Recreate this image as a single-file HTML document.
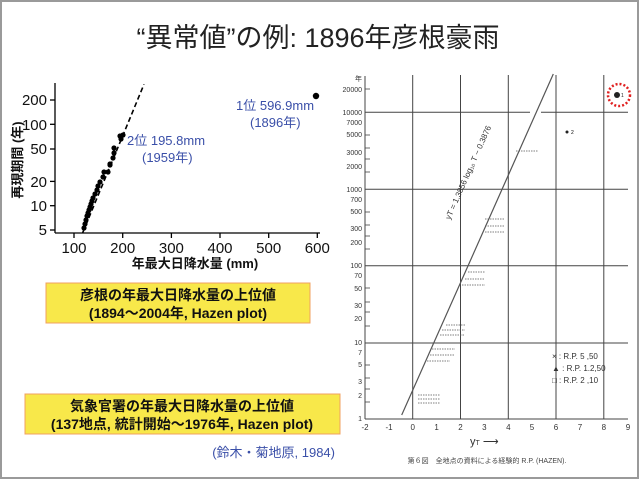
<!DOCTYPE html>
<html><head><meta charset="utf-8"><style>
body{margin:0;background:#fff}
svg{display:block}
text{font-family:"Liberation Sans","Noto Sans CJK JP",sans-serif}
</style></head><body>
<svg width="640" height="481" viewBox="0 0 640 481" xmlns="http://www.w3.org/2000/svg">
<rect x="0" y="0" width="640" height="481" fill="#fff"/>
<rect x="1" y="1" width="637" height="477" fill="none" stroke="#9a9a9a" stroke-width="2"/>
<text x="318" y="47" font-size="27" text-anchor="middle" fill="#222">“異常値”の例: 1896年彦根豪雨</text>

<!-- left chart -->
<g stroke="#000" stroke-width="1.3" fill="none">
<line x1="55" y1="83" x2="55" y2="233"/>
<line x1="55" y1="233" x2="320" y2="233"/>
<line x1="55" y1="230" x2="50" y2="230"/><line x1="55" y1="205.7" x2="50" y2="205.7"/>
<line x1="55" y1="181.4" x2="50" y2="181.4"/><line x1="55" y1="149" x2="50" y2="149"/>
<line x1="55" y1="124.3" x2="50" y2="124.3"/><line x1="55" y1="100" x2="50" y2="100"/>
<line x1="74" y1="233" x2="74" y2="238"/><line x1="122.7" y1="233" x2="122.7" y2="238"/>
<line x1="171.4" y1="233" x2="171.4" y2="238"/><line x1="220" y1="233" x2="220" y2="238"/>
<line x1="268.7" y1="233" x2="268.7" y2="238"/><line x1="317.3" y1="233" x2="317.3" y2="238"/>
<line x1="82.7" y1="232.7" x2="144" y2="84.3" stroke-dasharray="5,3" stroke-width="1.6"/>
</g>
<g font-size="15" fill="#111" text-anchor="end">
<text x="47" y="235">5</text><text x="47" y="211">10</text><text x="47" y="187">20</text>
<text x="47" y="154">50</text><text x="47" y="130">100</text><text x="47" y="105">200</text>
</g>
<g font-size="15" fill="#111" text-anchor="middle">
<text x="74" y="253">100</text><text x="122.7" y="253">200</text><text x="171.4" y="253">300</text>
<text x="220" y="253">400</text><text x="268.7" y="253">500</text><text x="317.3" y="253">600</text>
</g>
<text x="195" y="268" font-size="13" font-weight="bold" text-anchor="middle" fill="#111">年最大日降水量 (mm)</text>
<text transform="translate(22,160) rotate(-90)" font-size="13" font-weight="bold" text-anchor="middle" fill="#111">再現期間 (年)</text>
<g fill="#000">
<circle cx="84" cy="228" r="2.6"/><circle cx="85" cy="224" r="2.6"/><circle cx="86" cy="220" r="2.6"/>
<circle cx="87" cy="216" r="2.6"/><circle cx="88" cy="213" r="2.6"/><circle cx="89" cy="210" r="2.6"/>
<circle cx="90" cy="207" r="2.6"/><circle cx="91" cy="204" r="2.6"/><circle cx="92" cy="201" r="2.6"/>
<circle cx="93" cy="198" r="2.6"/><circle cx="95" cy="194" r="2.6"/><circle cx="97" cy="190" r="2.6"/>
<circle cx="98" cy="186" r="2.6"/><circle cx="100" cy="182" r="2.6"/><circle cx="103" cy="177" r="2.6"/>
<circle cx="104" cy="172" r="2.6"/><circle cx="108" cy="172" r="2.6"/><circle cx="110" cy="164" r="2.6"/>
<circle cx="113" cy="158" r="2.6"/><circle cx="114" cy="153" r="2.6"/><circle cx="121" cy="139" r="2.6"/>
<circle cx="110" cy="165" r="2.6"/><circle cx="114" cy="148" r="2.6"/><circle cx="120" cy="136" r="2.6"/>
<circle cx="123" cy="135" r="2.6"/><circle cx="316" cy="96" r="3.2"/>
</g>
<g font-size="13" fill="#3a4fa8">
<text x="127" y="145">2位 195.8mm</text><text x="142" y="162">(1959年)</text>
<text x="236" y="110">1位 596.9mm</text><text x="250" y="127">(1896年)</text>
</g>

<!-- yellow boxes -->
<rect x="46" y="283" width="264" height="40" fill="#f8e84a" stroke="#f0a060" stroke-width="1"/>
<text x="178" y="300" font-size="14" font-weight="bold" text-anchor="middle" fill="#111">彦根の年最大日降水量の上位値</text>
<text x="178" y="318" font-size="14" font-weight="bold" text-anchor="middle" fill="#111">(1894～2004年, Hazen plot)</text>
<rect x="25" y="394" width="315" height="40" fill="#f8e84a" stroke="#f0a060" stroke-width="1"/>
<text x="182" y="411" font-size="14" font-weight="bold" text-anchor="middle" fill="#111">気象官署の年最大日降水量の上位値</text>
<text x="182" y="429" font-size="14" font-weight="bold" text-anchor="middle" fill="#111">(137地点, 統計開始～1976年, Hazen plot)</text>
<text x="335" y="457" font-size="13" text-anchor="end" fill="#3a4fa8">(鈴木・菊地原, 1984)</text>

<!-- right chart -->
<g stroke="#444" stroke-width="1" fill="none">
<line x1="365" y1="76" x2="365" y2="419"/>
<line x1="365" y1="419" x2="628" y2="419"/>
<line x1="412.7" y1="75" x2="412.7" y2="419"/><line x1="460.5" y1="75" x2="460.5" y2="419"/>
<line x1="508.3" y1="75" x2="508.3" y2="419"/><line x1="556" y1="75" x2="556" y2="419"/>
<line x1="603.8" y1="75" x2="603.8" y2="419"/>
<line x1="365" y1="343" x2="628" y2="343"/><line x1="365" y1="265.7" x2="628" y2="265.7"/>
<line x1="365" y1="189.3" x2="628" y2="189.3"/><line x1="365" y1="112.3" x2="530" y2="112.3"/>
<line x1="541" y1="112.3" x2="628" y2="112.3"/>
<line x1="401.7" y1="415" x2="553.3" y2="74" stroke="#555" stroke-width="1.2"/>
</g>
<g stroke="#444" stroke-width="0.8">
<line x1="365" y1="89" x2="370" y2="89"/><line x1="365" y1="135" x2="370" y2="135"/>
<line x1="365" y1="148" x2="370" y2="148"/><line x1="365" y1="159" x2="370" y2="159"/>
<line x1="365" y1="172" x2="370" y2="172"/><line x1="365" y1="212" x2="370" y2="212"/>
<line x1="365" y1="225" x2="370" y2="225"/><line x1="365" y1="236" x2="370" y2="236"/>
<line x1="365" y1="249" x2="370" y2="249"/><line x1="365" y1="288" x2="370" y2="288"/>
<line x1="365" y1="302" x2="370" y2="302"/><line x1="365" y1="312" x2="370" y2="312"/>
<line x1="365" y1="326" x2="370" y2="326"/><line x1="365" y1="365" x2="370" y2="365"/>
<line x1="365" y1="378" x2="370" y2="378"/><line x1="365" y1="389" x2="370" y2="389"/>
<line x1="365" y1="402" x2="370" y2="402"/>
</g>
<g font-size="7" fill="#333" text-anchor="end">
<text x="362" y="81">年</text><text x="362" y="92">20000</text><text x="362" y="115">10000</text>
<text x="362" y="125">7000</text><text x="362" y="137">5000</text><text x="362" y="155">3000</text>
<text x="362" y="169">2000</text><text x="362" y="192">1000</text><text x="362" y="202">700</text>
<text x="362" y="214">500</text><text x="362" y="231">300</text><text x="362" y="245">200</text>
<text x="362" y="268">100</text><text x="362" y="278">70</text><text x="362" y="291">50</text>
<text x="362" y="308">30</text><text x="362" y="321">20</text><text x="362" y="345">10</text>
<text x="362" y="355">7</text><text x="362" y="367">5</text><text x="362" y="384">3</text>
<text x="362" y="398">2</text><text x="362" y="421">1</text>
</g>
<g font-size="8" fill="#333" text-anchor="middle">
<text x="365" y="430">-2</text><text x="389" y="430">-1</text><text x="412.7" y="430">0</text>
<text x="436.6" y="430">1</text><text x="460.5" y="430">2</text><text x="484.4" y="430">3</text>
<text x="508.3" y="430">4</text><text x="532" y="430">5</text><text x="556" y="430">6</text>
<text x="580" y="430">7</text><text x="603.8" y="430">8</text><text x="628" y="430">9</text>
</g>
<text x="470" y="445" font-size="11" fill="#333">y<tspan font-size="7">T</tspan> ⟶</text>
<text x="487" y="463" font-size="7" text-anchor="middle" fill="#444">第６図　全地点の資料による経験的 R.P. (HAZEN).</text>
<text transform="translate(450,220) rotate(-66)" font-size="8" fill="#333">yT = 1.3856 log₁₀ T − 0.3876</text>
<g font-size="8" fill="#333">
<text x="552" y="359">× : R.P. 5 ,50</text><text x="552" y="371">▲ : R.P. 1.2,50</text>
<text x="552" y="383">□ : R.P. 2 ,10</text>
</g>
<circle cx="617" cy="95" r="3" fill="#222"/><text x="621" y="97" font-size="5" fill="#222">1</text>
<circle cx="567" cy="132" r="1.5" fill="#222"/><text x="571" y="134" font-size="5">2</text>
<circle cx="619" cy="95" r="11" fill="none" stroke="#e02020" stroke-width="2.5" stroke-dasharray="2,2"/>
<g fill="none" stroke="#555" stroke-width="0.7" stroke-dasharray="1.5,1">
<line x1="516" y1="151" x2="538" y2="151"/><line x1="485" y1="219" x2="505" y2="219"/>
<line x1="485" y1="226" x2="505" y2="226"/><line x1="485" y1="232" x2="505" y2="232"/>
<line x1="468" y1="272" x2="485" y2="272"/><line x1="465" y1="279" x2="485" y2="279"/>
<line x1="462" y1="285" x2="485" y2="285"/><line x1="446" y1="325" x2="465" y2="325"/>
<line x1="442" y1="330" x2="465" y2="330"/><line x1="440" y1="335" x2="465" y2="335"/>
<line x1="432" y1="349" x2="455" y2="349"/><line x1="430" y1="355" x2="455" y2="355"/>
<line x1="427" y1="361" x2="450" y2="361"/><line x1="418" y1="395" x2="440" y2="395"/>
<line x1="418" y1="399" x2="440" y2="399"/><line x1="418" y1="403" x2="440" y2="403"/>
</g>
</svg>
</body></html>
